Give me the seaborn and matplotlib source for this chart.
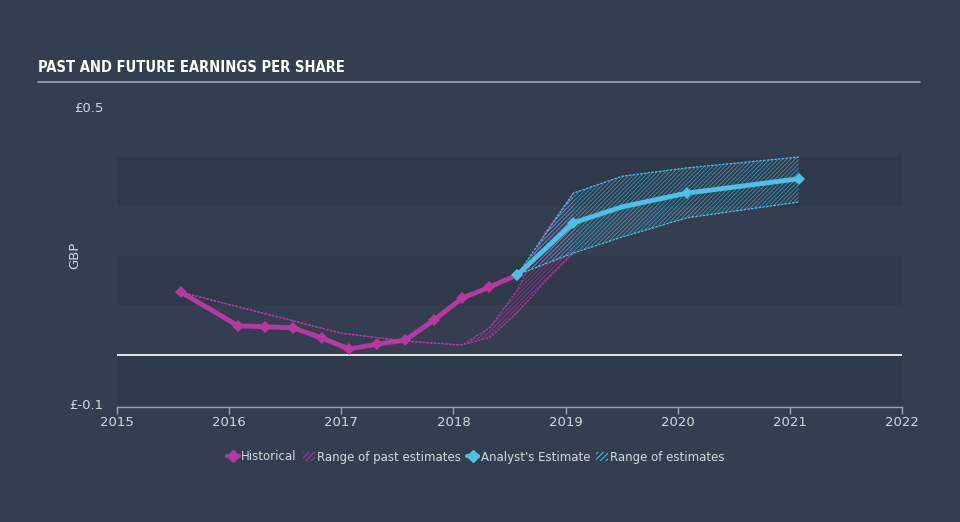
import numpy as np
import pandas as pd
import matplotlib
matplotlib.use("Agg")
import matplotlib.pyplot as plt
import seaborn as sns
from matplotlib.lines import Line2D
from matplotlib.patches import Patch

# Historical EPS
hist_x = [2015.57, 2016.08, 2016.32, 2016.57, 2016.83, 2017.07, 2017.32, 2017.57, 2017.83, 2018.08, 2018.32, 2018.57]
hist_y = [0.126, 0.058, 0.056, 0.054, 0.033, 0.011, 0.021, 0.029, 0.070, 0.114, 0.136, 0.161]

# Analyst estimate (2019.5 is an unmarked point on the curve)
est_x = [2018.57, 2019.07, 2019.5, 2020.08, 2021.08]
est_y = [0.161, 0.266, 0.298, 0.326, 0.355]
est_hi = [0.161, 0.326, 0.360, 0.377, 0.399]
est_lo = [0.161, 0.205, 0.237, 0.276, 0.308]

# Range of past estimates
past_x = [2015.57, 2016.0, 2016.57, 2017.0, 2017.57, 2018.08, 2018.33, 2018.57, 2018.83, 2019.07]
past_hi = [0.126, 0.101, 0.068, 0.043, 0.027, 0.019, 0.056, 0.130, 0.250, 0.326]
past_lo = [0.126, 0.101, 0.068, 0.043, 0.027, 0.019, 0.035, 0.085, 0.150, 0.205]

bg = "#333f50"
band = "#2e3a4a"
mag = "#b5399f"
cyan = "#4ec0e6"
txt = "#d5d9de"

sns.set_theme(style="dark")
plt.rcParams["font.family"] = ["DejaVu Sans"]
plt.rcParams["hatch.linewidth"] = 0.7

fig = plt.figure(figsize=(9.6, 5.22), dpi=100, facecolor=bg)
ax = fig.add_axes([117 / 960, 1 - 404 / 522, 785 / 960, 297 / 522])
ax.set_facecolor(bg)

for lo, hi in [(0.3, 0.4), (0.1, 0.2), (-0.1, 0.0)]:
    ax.axhspan(lo, hi, color=band, zorder=0, lw=0)
ax.axhline(0, color="white", lw=1.2, zorder=1)

# past estimate range
ax.fill_between(past_x, past_lo, past_hi, facecolor="none", edgecolor=mag, hatch="////////", lw=0, alpha=0.6, zorder=2)
ax.plot(past_x, past_hi, color=mag, lw=0.9, ls=(0, (2, 1)), zorder=2)
ax.plot(past_x, past_lo, color=mag, lw=0.9, ls=(0, (2, 1)), zorder=2)

# future estimate range
ax.fill_between(est_x, est_lo, est_hi, facecolor="none", edgecolor=cyan, hatch="////////", lw=0, alpha=0.6, zorder=2)
ax.plot(est_x, est_hi, color=cyan, lw=0.9, ls=(0, (2, 1)), zorder=2)
ax.plot(est_x, est_lo, color=cyan, lw=0.9, ls=(0, (2, 1)), zorder=2)

hist_df = pd.DataFrame({"x": hist_x, "y": hist_y})
est_df = pd.DataFrame({"x": est_x, "y": est_y})
sns.lineplot(data=hist_df, x="x", y="y", ax=ax, color=mag, lw=3.5, marker="D",
             markersize=6.5, markeredgewidth=0, zorder=4)
sns.lineplot(data=est_df, x="x", y="y", ax=ax, color=cyan, lw=3.5, zorder=5)
sns.lineplot(data=est_df.iloc[[0, 1, 3, 4]], x="x", y="y", ax=ax, color=cyan, lw=0,
             marker="D", markersize=6.5, markeredgewidth=0, zorder=5)

ax.set_xlim(2015, 2022)
ax.set_ylim(-0.1, 0.5)
ax.set_xticks(range(2015, 2023))
ax.set_xticklabels([str(y) for y in range(2015, 2023)])
ax.set_yticks([-0.1, 0.5])
ax.set_yticklabels(["£-0.1", "£0.5"])
ax.tick_params(axis="x", length=5, width=1, color="#9aa5b1", direction="out", pad=2,
               bottom=True, labelcolor=txt, labelsize=9.5)
ax.tick_params(axis="y", length=0, pad=10, labelcolor=txt, labelsize=9.5)
ax.set_xlabel("")
ax.set_ylabel("GBP", color=txt, fontsize=9.5)
ax.yaxis.set_label_coords(-0.046, 0.5)
for s in ["top", "right", "left"]:
    ax.spines[s].set_visible(False)
ax.spines["bottom"].set_color("#9aa5b1")
ax.spines["bottom"].set_linewidth(1)
ax.spines["bottom"].set_position(("outward", 2))
ax.grid(False)

fig.text(38 / 960, 1 - 68 / 522, "PAST AND FUTURE EARNINGS PER SHARE", color="white",
         fontsize=10.5, fontweight="bold", fontstretch="condensed", va="center", ha="left")
fig.add_artist(Line2D([38 / 960, 920 / 960], [1 - 82 / 522, 1 - 82 / 522], color="#9aa5b1", lw=1.2))

handles = [
    Line2D([], [], color=mag, lw=3, marker="D", markersize=6),
    Patch(facecolor="none", edgecolor=mag, hatch="//////", lw=0),
    Line2D([], [], color=cyan, lw=3, marker="D", markersize=6),
    Patch(facecolor="none", edgecolor=cyan, hatch="//////", lw=0),
]
labels = ["Historical", "Range of past estimates", "Analyst's Estimate", "Range of estimates"]
leg = fig.legend(handles, labels, loc="center", bbox_to_anchor=(476 / 960, 1 - 457 / 522), ncol=4,
                 frameon=False, fontsize=8.5, handlelength=1.0, handleheight=0.8,
                 handletextpad=0.2, columnspacing=0.5)
for t in leg.get_texts():
    t.set_color(txt)

fig.savefig("out.png", dpi=100, facecolor=bg)
